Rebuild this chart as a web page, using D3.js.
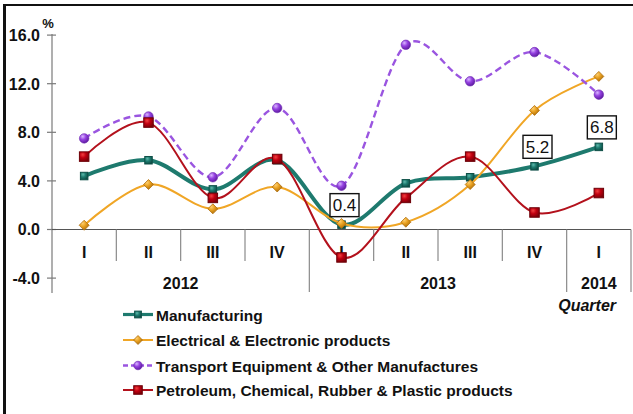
<!DOCTYPE html>
<html><head><meta charset="utf-8">
<script src="https://cdn.jsdelivr.net/npm/d3@7/dist/d3.min.js"></script>
<style>
html,body{margin:0;padding:0;background:#fff;}
svg{display:block;}
text{font-family:"Liberation Sans",Arial,sans-serif;fill:#111;}
</style></head>
<body>
<svg id="chart" width="633" height="414"></svg>
<script>
// ---- data ----
const quarters = ["I","II","III","IV","I","II","III","IV","I"];
const years = [
  {label:"2012", start:0, end:4},
  {label:"2013", start:4, end:8},
  {label:"2014", start:8, end:9}
];
const yTicks = [-4, 0, 4, 8, 12, 16];
const manufacturing = [4.4, 5.7, 3.3, 5.7, 0.4, 3.8, 4.3, 5.2, 6.8];
const electrical    = [0.35, 3.7, 1.7, 3.5, 0.5, 0.6, 3.7, 9.8, 12.6];
const transport     = [7.5, 9.3, 4.3, 10.0, 3.6, 15.2, 12.2, 14.6, 11.1];
const petroleum     = [6.0, 8.8, 2.6, 5.8, -2.3, 2.6, 6.0, 1.4, 3.0];
const seriesNames = [
  "Manufacturing",
  "Electrical & Electronic products",
  "Transport Equipment & Other Manufactures",
  "Petroleum, Chemical, Rubber & Plastic products"
];
const labelIdx = [4, 7, 8]; // manufacturing data labels shown

// ---- setup ----
const svg = d3.select("#chart");
const defs = svg.append("defs");

function radial(id, light, mid, dark){
  const g = defs.append("radialGradient").attr("id", id)
    .attr("cx","35%").attr("cy","30%").attr("r","75%");
  g.append("stop").attr("offset","0%").attr("stop-color", light);
  g.append("stop").attr("offset","45%").attr("stop-color", mid);
  g.append("stop").attr("offset","100%").attr("stop-color", dark);
}
radial("gPurple", "#d9b6ff", "#9440e0", "#5a1a9a");
radial("gRed", "#f04040", "#c00010", "#7a0008");
radial("gTeal", "#5fb7aa", "#1d7c70", "#0e4a42");
radial("gOrange", "#ffd070", "#e8a020", "#a86a08");

svg.append("rect").attr("width",633).attr("height",414).attr("fill","#fff");

const x = d3.scaleBand().domain(d3.range(quarters.length)).range([52, 631]).padding(0);
const y = d3.scaleLinear().domain([-4, 16]).range([278.1, 35.1]);
const cx = i => x(i) + x.bandwidth()/2;

// border
svg.append("line").attr("x1",3).attr("x2",633).attr("y1",5).attr("y2",5)
  .attr("stroke","#111").attr("stroke-width",2);
svg.append("line").attr("x1",4.5).attr("x2",4.5).attr("y1",4).attr("y2",414)
  .attr("stroke","#111").attr("stroke-width",3);

// y axis
const axisColor = "#7a7a7a";
svg.append("line").attr("x1",52).attr("x2",52).attr("y1",y(16)-1).attr("y2",293)
  .attr("stroke",axisColor).attr("stroke-width",1.2);
const yt = svg.append("g");
yTicks.forEach(v => {
  yt.append("line").attr("x1",47).attr("x2",56).attr("y1",y(v)).attr("y2",y(v))
    .attr("stroke",axisColor).attr("stroke-width",1.2);
  yt.append("text").attr("x",40).attr("y",y(v)+5.8).attr("text-anchor","end")
    .attr("font-size",16).attr("font-weight","bold").text(v.toFixed(1));
});
svg.append("text").attr("x",48).attr("y",28).attr("text-anchor","middle")
  .attr("font-size",13).attr("font-weight","bold").text("%");

// zero line
svg.append("line").attr("x1",52).attr("x2",631).attr("y1",y(0)).attr("y2",y(0))
  .attr("stroke","#555").attr("stroke-width",1.2);

// category dividers
const yearBounds = new Set(years.map(d=>d.end));
for (let i = 1; i <= quarters.length; i++) {
  const xx = x(i-1) + x.bandwidth();
  svg.append("line").attr("x1",xx).attr("x2",xx).attr("y1",y(0))
    .attr("y2", yearBounds.has(i) ? 292 : 261)
    .attr("stroke","#8a8a8a").attr("stroke-width",1.2);
}
quarters.forEach((q,i) => {
  svg.append("text").attr("x",cx(i)).attr("y",258).attr("text-anchor","middle")
    .attr("font-size",16).attr("font-weight","bold").text(q);
});
years.forEach(yr => {
  const mid = (x(yr.start) + x(yr.end-1) + x.bandwidth())/2;
  svg.append("text").attr("x",mid).attr("y",289).attr("text-anchor","middle")
    .attr("font-size",16).attr("font-weight","bold").text(yr.label);
});
svg.append("text").attr("x",616).attr("y",310.5).attr("text-anchor","end")
  .attr("font-size",16).attr("font-weight","bold").attr("font-style","italic").text("Quarter");

// ---- series ----
const styles = [
  {data:manufacturing, color:"#1e7a6e", width:4,   dash:null,  marker:"square", size:7.5, fill:"url(#gTeal)",   mstroke:"#0f5048"},
  {data:electrical,    color:"#f0a626", width:2,   dash:null,  marker:"diamond",size:10,  fill:"url(#gOrange)", mstroke:"#b07010"},
  {data:transport,     color:"#9a55e0", width:2.4, dash:"7,4", marker:"circle", size:9.5, fill:"url(#gPurple)", mstroke:"#6a25b0"},
  {data:petroleum,     color:"#b3111c", width:2,   dash:null,  marker:"square", size:9.5, fill:"url(#gRed)",    mstroke:"#6e0008"}
];
const line = d3.line().x((d,i)=>cx(i)).y(d=>y(d)).curve(d3.curveCardinal.tension(0));

function drawMarker(g, kind, px, py, s, fill, stroke){
  if (kind === "square") {
    g.append("rect").attr("x",px-s/2).attr("y",py-s/2).attr("width",s).attr("height",s)
      .attr("fill",fill).attr("stroke",stroke).attr("stroke-width",1);
  } else if (kind === "diamond") {
    const h = s/2;
    g.append("path").attr("d",`M${px},${py-h}L${px+h},${py}L${px},${py+h}L${px-h},${py}Z`)
      .attr("fill",fill).attr("stroke",stroke).attr("stroke-width",0.8);
  } else {
    g.append("circle").attr("cx",px).attr("cy",py).attr("r",s/2)
      .attr("fill",fill).attr("stroke",stroke).attr("stroke-width",0.6);
  }
}

styles.forEach(st => {
  const g = svg.append("g");
  g.append("path").attr("d", line(st.data)).attr("fill","none")
    .attr("stroke",st.color).attr("stroke-width",st.width)
    .attr("stroke-dasharray",st.dash).attr("stroke-linejoin","round");
  st.data.forEach((v,i) => drawMarker(g, st.marker, cx(i), y(v), st.size, st.fill, st.mstroke));
});

// data labels
labelIdx.forEach(i => {
  const v = manufacturing[i];
  const bx = cx(i) + 3, by = y(v) - 8;
  svg.append("rect").attr("x",bx-14.5).attr("y",by-23).attr("width",29).attr("height",23)
    .attr("fill","#fff").attr("stroke","#111").attr("stroke-width",1.4);
  svg.append("text").attr("x",bx).attr("y",by-5.5).attr("text-anchor","middle")
    .attr("font-size",17).text(v.toFixed(1));
});

// legend
const legBase = [320.5, 346, 371.5, 396];
styles.forEach((st,k) => {
  const ly = legBase[k] - 6;
  const g = svg.append("g");
  g.append("line").attr("x1",123).attr("x2",153).attr("y1",ly).attr("y2",ly)
    .attr("stroke",st.color).attr("stroke-width",Math.min(st.width,3.2))
    .attr("stroke-dasharray",st.dash ? "5,3" : null);
  drawMarker(g, st.marker, 138, ly, st.size*0.9, st.fill, st.mstroke);
  g.append("text").attr("x",156).attr("y",legBase[k]).attr("font-size",15.5)
    .attr("font-weight","bold").text(seriesNames[k]);
});
</script>
</body></html>
